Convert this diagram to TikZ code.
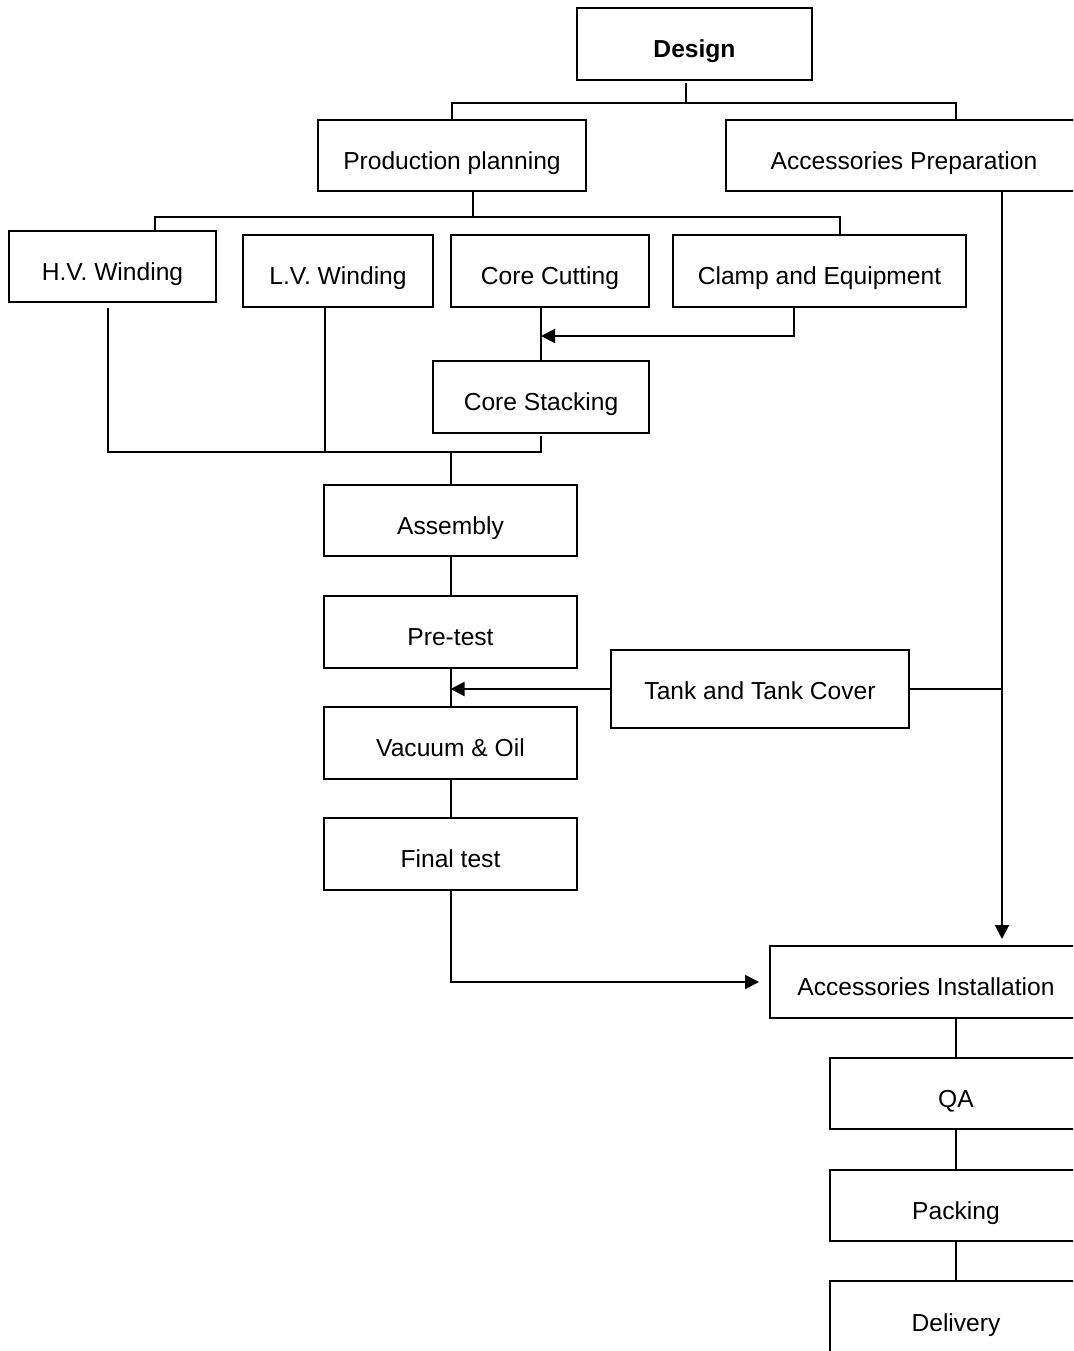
\documentclass[tikz,border=0pt]{standalone}
\usepackage{fontspec}
\setmainfont{Liberation Sans}
\usetikzlibrary{arrows.meta}

\begin{document}
\begin{tikzpicture}[x=.5pt,y=-.5pt,line width=1pt,
  stage/.style={draw,inner sep=0pt,minimum height=36pt,text height=13.5pt,text depth=0pt,font=\fontsize{12.3}{15}\selectfont},
  feed/.style={-{Triangle[length=7pt,width=7pt]}}]
\clip (0,0) rectangle (1073,1351);
\node[stage,minimum width=117.5pt,font=\fontsize{12.3}{15}\selectfont\bfseries] (design) at (694.5,44) {Design};
\node[stage,minimum width=134pt,minimum height=35.5pt] (plan) at (452,155.5) {Production planning};
\node[stage,minimum width=178pt,minimum height=35.5pt] (accprep) at (904,155.5) {Accessories Preparation};
\node[stage,minimum width=103.5pt,minimum height=35.5pt] (hv) at (112.5,266.5) {H.V. Winding};
\node[stage,minimum width=95pt] (lv) at (338,271) {L.V. Winding};
\node[stage,minimum width=99pt] (cut) at (550,271) {Core Cutting};
\node[stage,minimum width=146.5pt] (clamp) at (819.5,271) {Clamp and Equipment};
\node[stage,minimum width=108pt] (stack) at (541,397) {Core Stacking};
\node[stage,minimum width=126.5pt,minimum height=35.5pt] (asm) at (450.5,520.5) {Assembly};
\node[stage,minimum width=126.5pt] (pre) at (450.5,632) {Pre-test};
\node[stage,minimum width=126.5pt] (vac) at (450.5,743) {Vacuum \& Oil};
\node[stage,minimum width=126.5pt] (fin) at (450.5,854) {Final test};
\node[stage,minimum width=149pt,minimum height=39pt,text height=10pt] (tank) at (760,689) {Tank and Tank Cover};
\node[stage,minimum width=156pt] (accinst) at (926,982) {Accessories Installation};
\node[stage,minimum width=126pt,minimum height=35.5pt] (qa) at (956,1093.5) {QA};
\node[stage,minimum width=126pt,minimum height=35.5pt] (pack) at (956,1205.5) {Packing};
\node[stage,minimum width=126pt,minimum height=40pt,text height=10.5pt] (deliv) at (956,1321) {Delivery};
% design splits
\draw ([xshift=-4.25pt,yshift=-1pt]design.south) -- ++(0,20) coordinate (b1);
\draw (plan.north) |- (b1) -| ([xshift=26pt]accprep.north);
% planning to the four parts
\draw ([xshift=10.5pt]plan.south) -- ++(0,25) coordinate (b2);
\draw ([xshift=21pt]hv.north) |- (b2) -| ([xshift=10pt]clamp.north);
\draw (stack.north) -- (stack.north |- cut.south);
\draw[feed] ([xshift=-12.75pt]clamp.south) |- ([yshift=12pt]stack.north);
% windings and core join
\draw ([xshift=-2.25pt,yshift=-2.5pt]hv.south) |- ([yshift=16pt]asm.north) coordinate (b3) -| ([yshift=-1pt]stack.south);
\draw ([xshift=-6.5pt]lv.south) -- ([xshift=-6.5pt]lv.south |- b3);
\draw (b3) -- (asm.north);
\draw (asm.south) -- (pre.north);
\draw (pre.south) -- (vac.north);
\draw (vac.south) -- (fin.north);
\draw[feed] (tank.west) -- (tank.west -| pre.south);
% accessories rail
\draw ([xshift=49pt]accprep.south) coordinate (r0) -- (r0 |- tank.east);
\draw (tank.east) -- (r0 |- tank.east);
\draw[feed] (r0 |- tank.east) -- ([yshift=3pt]r0 |- accinst.north);
\draw[feed] (fin.south) |- ([xshift=-5pt]accinst.west);
\draw (qa.north) -- (qa.north |- accinst.south);
\draw (qa.south) -- (pack.north);
\draw (pack.south) -- (deliv.north);
\end{tikzpicture}
\end{document}
